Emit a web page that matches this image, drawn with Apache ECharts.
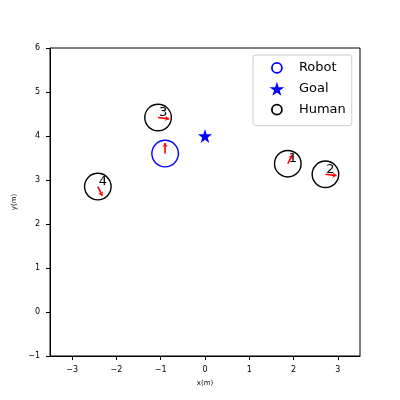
<!DOCTYPE html>
<html>
<head>
<meta charset="utf-8">
<script src="https://cdn.jsdelivr.net/npm/echarts@6/dist/echarts.min.js"></script>
<style>
  html, body { margin: 0; padding: 0; background: #fff; }
  #chart-container { width: 400px; height: 400px; }
</style>
</head>
<body>
<div id="chart-container"></div>
<script>
// positions (m)
const humanX = [1.87, 2.72, -1.06, -2.42];
const humanY = [3.37, 3.13, 4.42, 2.85];
const humanVx = [0.1, 0.25, 0.25, 0.1];   // arrow components
const humanVy = [0.2, -0.03, -0.03, -0.21];
const humanRadius = 0.3;

const robotX = [-0.9];
const robotY = [3.6];
const robotVx = [0];
const robotVy = [0.24];
const robotRadius = 0.3;

const goalX = [0];
const goalY = [4];

const xTicks = [-3, -2, -1, 0, 1, 2, 3];
const FONT = "DejaVu Sans";

const starPath = "path://M50,0 L61.2,34.5 L97.6,34.5 L68.2,55.9 L79.4,90.5 L50,69.1 L20.6,90.5 L31.8,55.9 L2.4,34.5 L38.8,34.5 Z";
// circle inside a 14x14 box so the legend icon stays smaller than the star
const ringPath = "path://M0,0 M14,14 M7,2 A5,5 0 1,1 7,12 A5,5 0 1,1 7,2 Z";

const chart = echarts.init(document.getElementById("chart-container"));

const minus = (v) => String(v).replace("-", "\u2212");

// draws a ring whose radius is in data units
const ring = (color) => (params, api) => {
  const c = api.coord([api.value(0), api.value(1)]);
  const r = api.size([api.value(2), 0])[0];
  return {
    type: "circle",
    shape: { cx: c[0], cy: c[1], r: r },
    style: { fill: "none", stroke: color, lineWidth: 1.4 },
  };
};

const arrows = humanX
  .map((x, i) => ({ coords: [[x, humanY[i]], [x + humanVx[i], humanY[i] + humanVy[i]]] }))
  .concat(robotX.map((x, i) => ({ coords: [[x, robotY[i]], [x + robotVx[i], robotY[i] + robotVy[i]]] })));

const option = {
  animation: false,
  grid: { left: 50, right: 40, top: 48, bottom: 44, show: true, borderColor: "#000", borderWidth: 1 },
  legend: {
    left: 253,
    top: 55,
    orient: "vertical",
    padding: [5, 6, 8, 16],
    itemGap: 6,
    itemWidth: 34,
    itemHeight: 14,
    backgroundColor: "rgba(255,255,255,0.8)",
    borderColor: "#ccc",
    borderWidth: 1,
    borderRadius: 3,
    selectedMode: false,
    textStyle: { fontFamily: FONT, fontSize: 13, color: "#000" },
    data: [
      { name: "Robot", icon: ringPath, itemStyle: { color: "#fff", borderColor: "#0000ff", borderWidth: 1.8 } },
      { name: "Goal", icon: starPath, itemStyle: { color: "#0000ff", borderWidth: 0 } },
      { name: "Human", icon: ringPath, itemStyle: { color: "#fff", borderColor: "#000", borderWidth: 1.8 } },
    ],
  },
  xAxis: {
    type: "value",
    min: -3.5,
    max: 3.5,
    name: "x(m)",
    nameLocation: "middle",
    nameGap: 24,
    nameTextStyle: { fontFamily: FONT, fontSize: 7, color: "#000" },
    axisLine: { onZero: false, lineStyle: { color: "#000", width: 1 } },
    axisTick: { show: true, length: 4, customValues: xTicks, lineStyle: { color: "#000" } },
    axisLabel: { customValues: xTicks, margin: 10, fontFamily: FONT, fontSize: 8, color: "#000", formatter: minus },
    splitLine: { show: false },
  },
  yAxis: {
    type: "value",
    min: -1,
    max: 6,
    interval: 1,
    name: "y(m)",
    nameLocation: "middle",
    nameGap: 31,
    nameTextStyle: { fontFamily: FONT, fontSize: 7, color: "#000" },
    axisLine: { show: true, onZero: false, lineStyle: { color: "#000", width: 1 } },
    axisTick: { show: true, length: 4, lineStyle: { color: "#000" } },
    axisLabel: { margin: 10, fontFamily: FONT, fontSize: 8, color: "#000", formatter: minus },
    splitLine: { show: false },
  },
  series: [
    {
      name: "Human",
      type: "custom",
      renderItem: ring("#000"),
      data: humanX.map((x, i) => [x, humanY[i], humanRadius]),
    },
    {
      name: "Robot",
      type: "custom",
      renderItem: ring("#0000ff"),
      data: robotX.map((x, i) => [x, robotY[i], robotRadius]),
    },
    {
      name: "Goal",
      type: "scatter",
      symbol: starPath,
      symbolSize: 14,
      itemStyle: { color: "#0000ff", opacity: 1 },
      data: goalX.map((x, i) => [x, goalY[i]]),
    },
    {
      name: "arrows",
      type: "lines",
      coordinateSystem: "cartesian2d",
      symbol: ["none", "arrow"],
      symbolSize: 4,
      lineStyle: { color: "#ff0000", width: 1.6, opacity: 1 },
      data: arrows,
    },
    {
      name: "labels",
      type: "custom",
      renderItem: (params, api) => {
        const c = api.coord([api.value(0), api.value(1)]);
        return {
          type: "text",
          x: c[0] + 5,
          y: c[1] - 5,
          style: {
            text: String(params.dataIndex + 1),
            fill: "#000",
            font: "13px DejaVu Sans",
            align: "center",
            verticalAlign: "middle",
          },
        };
      },
      data: humanX.map((x, i) => [x, humanY[i]]),
    },
  ],
};

chart.setOption(option);
</script>
</body>
</html>
